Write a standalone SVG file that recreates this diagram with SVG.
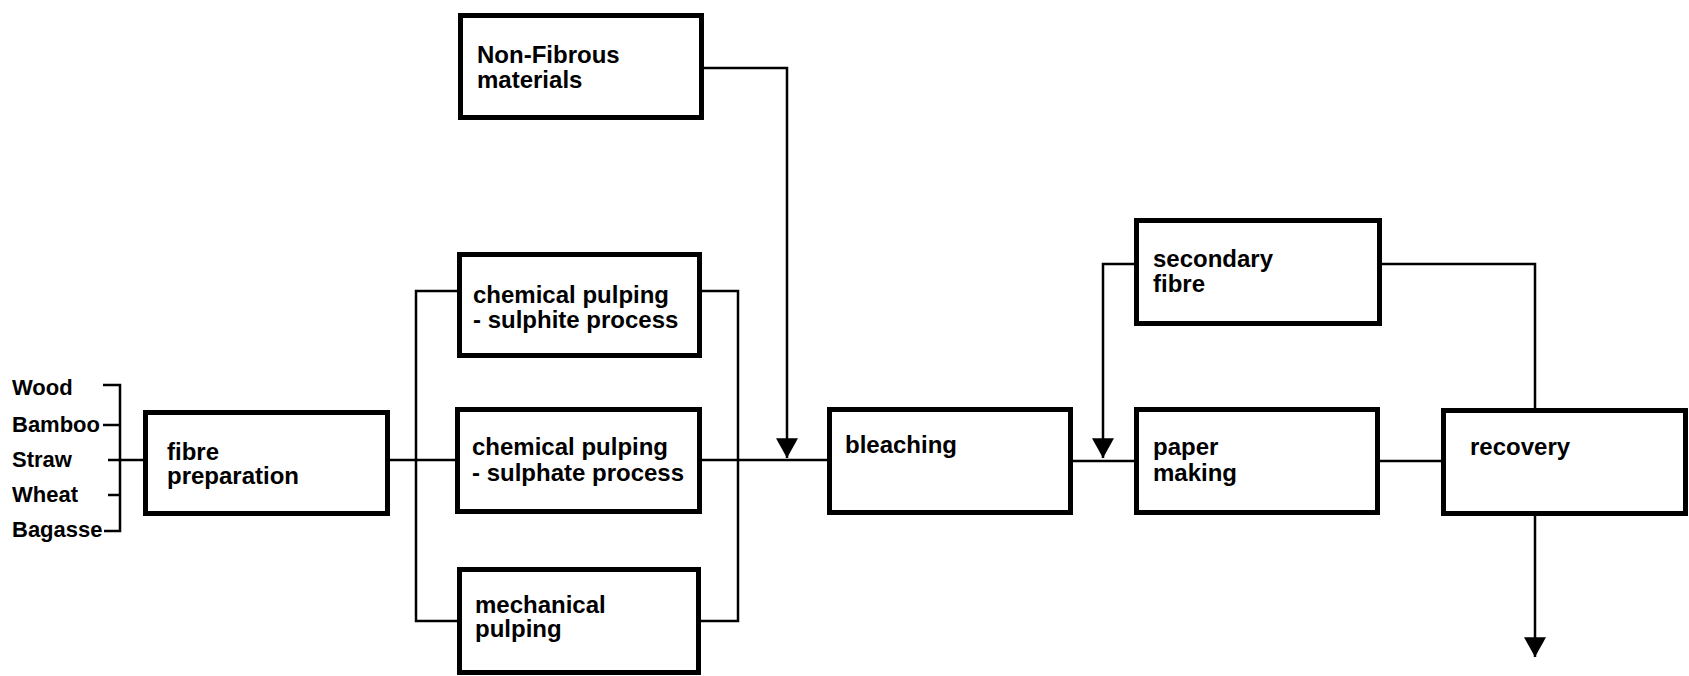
<svg xmlns="http://www.w3.org/2000/svg" width="1689" height="676" viewBox="0 0 1689 676">
  <style>
    .box { fill: #fff; stroke: #000; stroke-width: 5; }
    .lbl { font-family: "Liberation Sans", Arial, sans-serif; font-weight: bold; font-size: 24px; fill: #000; }
    .src { font-family: "Liberation Sans", Arial, sans-serif; font-weight: bold; font-size: 22px; fill: #000; }
    .wire { fill: none; stroke: #000; stroke-width: 2.5; }
  </style>
  <defs>
    <marker id="arrow" markerUnits="userSpaceOnUse" markerWidth="22" markerHeight="20" refX="10" refY="18" orient="0" viewBox="0 0 20 18">
      <path d="M0,0 L20,0 L10,18 Z" fill="#000"/>
    </marker>
  </defs>
  <rect width="1689" height="676" fill="#fff"/>

  <!-- raw material list -->
  <g id="raw-materials">
    <text class="src" x="12" y="395">Wood</text>
    <text class="src" x="12" y="432">Bamboo</text>
    <text class="src" x="12" y="467">Straw</text>
    <text class="src" x="12" y="502">Wheat</text>
    <text class="src" x="12" y="537">Bagasse</text>
  </g>

  <!-- connectors -->
  <g id="connectors" class="wire">
    <!-- bracket gathering the raw materials -->
    <path d="M103,385 H120 V531 H104"/>
    <path d="M103,425 H120"/>
    <path d="M108,495 H120"/>
    <path d="M108,460 H145"/>
    <!-- fibre preparation to the pulping processes -->
    <path d="M388,460 H457"/>
    <path d="M457,291 H416 V621 H457"/>
    <!-- pulping processes to bleaching -->
    <path d="M702,291 H738 V621 H700"/>
    <path d="M702,460 H829"/>
    <!-- non-fibrous materials feed -->
    <path d="M704,68 H787 V458" marker-end="url(#arrow)"/>
    <!-- bleaching to paper making -->
    <path d="M1073,461 H1136"/>
    <!-- secondary fibre feed -->
    <path d="M1136,264 H1103 V458" marker-end="url(#arrow)"/>
    <path d="M1382,264 H1535 V409"/>
    <!-- paper making to recovery -->
    <path d="M1380,461 H1443"/>
    <!-- recovery outlet -->
    <path d="M1535,515 V657" marker-end="url(#arrow)"/>
  </g>

  <g id="fibre-preparation">
    <rect class="box" x="145.5" y="412.5" width="242" height="101"/>
    <text class="lbl" x="167" y="460">fibre</text>
    <text class="lbl" x="167" y="484">preparation</text>
  </g>

  <g id="non-fibrous">
    <rect class="box" x="460.5" y="15.5" width="241" height="102"/>
    <text class="lbl" x="477" y="63">Non-Fibrous</text>
    <text class="lbl" x="477" y="88">materials</text>
  </g>

  <g id="sulphite">
    <rect class="box" x="459.5" y="254.5" width="240" height="101"/>
    <text class="lbl" x="473" y="303">chemical pulping</text>
    <text class="lbl" x="473" y="328">- sulphite  process</text>
  </g>

  <g id="sulphate">
    <rect class="box" x="457.5" y="409.5" width="242" height="102"/>
    <text class="lbl" x="472" y="455">chemical pulping</text>
    <text class="lbl" x="472" y="481">- sulphate  process</text>
  </g>

  <g id="mechanical">
    <rect class="box" x="459.5" y="569.5" width="239" height="103"/>
    <text class="lbl" x="475" y="613">mechanical</text>
    <text class="lbl" x="475" y="637">pulping</text>
  </g>

  <g id="bleaching">
    <rect class="box" x="829.5" y="409.5" width="241" height="103"/>
    <text class="lbl" x="845" y="453">bleaching</text>
  </g>

  <g id="secondary-fibre">
    <rect class="box" x="1136.5" y="220.5" width="243" height="103"/>
    <text class="lbl" x="1153" y="267">secondary</text>
    <text class="lbl" x="1153" y="292">fibre</text>
  </g>

  <g id="paper-making">
    <rect class="box" x="1136.5" y="409.5" width="241" height="103"/>
    <text class="lbl" x="1153" y="455">paper</text>
    <text class="lbl" x="1153" y="481">making</text>
  </g>

  <g id="recovery">
    <rect class="box" x="1443.5" y="410.5" width="242" height="103"/>
    <text class="lbl" x="1470" y="455">recovery</text>
  </g>
</svg>
